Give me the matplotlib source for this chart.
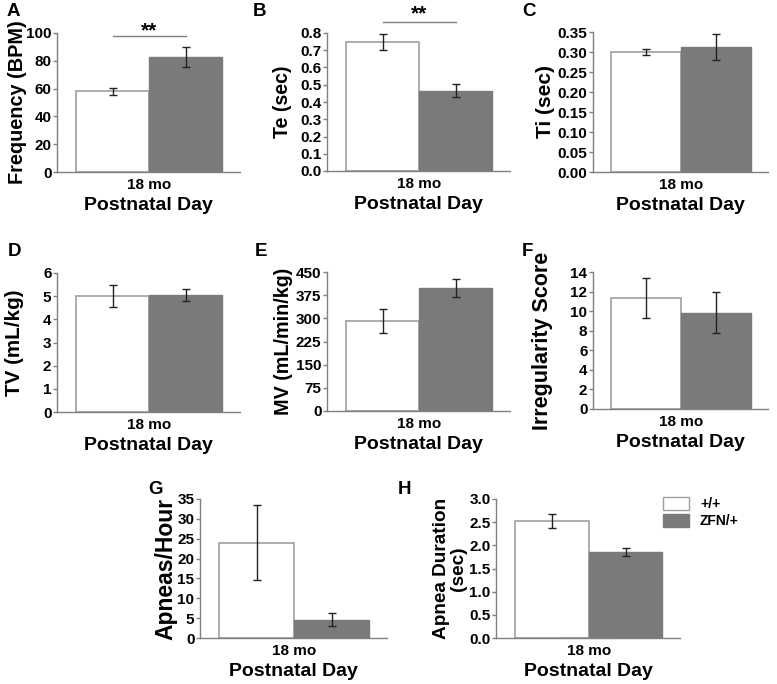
import numpy as np
import matplotlib
matplotlib.use("Agg")
from matplotlib import pyplot as plt

plt.rcParams['font.family'] = ['Liberation Sans', 'DejaVu Sans']
plt.rcParams['font.weight'] = 'bold'

# data (mean, sem) for +/+ and ZFN/+ at 18 mo
groups = ['+/+', 'ZFN/+']
panels = ['A', 'B', 'C', 'D', 'E', 'F', 'G', 'H']
ylabels = ['Frequency (BPM)', 'Te (sec)', 'Ti (sec)', 'TV (mL/kg)',
           'MV (mL/min/kg)', 'Irregularity Score', 'Apneas/Hour', 'Apnea Duration\n(sec)']
wt_mean = [58.0, 0.747, 0.301, 5.0, 291, 11.35, 24.0, 2.525]
wt_sem = [2.4, 0.048, 0.0075, 0.48, 40, 2.0, 9.4, 0.16]
zfn_mean = [82.4, 0.466, 0.312, 5.04, 398, 9.86, 4.6, 1.856]
zfn_sem = [7.2, 0.036, 0.033, 0.25, 28.5, 2.08, 1.7, 0.083]
yticks = [np.arange(0, 101, 20), np.arange(0, 0.81, 0.1), np.arange(0, 0.351, 0.05),
          np.arange(0, 7, 1), np.arange(0, 451, 75), np.arange(0, 15, 2),
          np.arange(0, 36, 5), np.arange(0, 3.01, 0.5)]
yfmt = ['{:.0f}', '{:.1f}', '{:.2f}', '{:.0f}', '{:.0f}', '{:.0f}', '{:.0f}', '{:.1f}']
sig = {0: (97.5, 101.5), 1: (0.861, 0.91)}

W, H = 777, 684
# axes boxes in pixels: left, right, top, bottom
boxes = [(57, 240, 33, 172), (327, 510, 33, 171), (593, 768, 32, 172),
         (57, 240, 273, 412), (327, 510, 272, 411), (593, 768, 272, 409),
         (200, 387, 499, 638), (496, 680, 499, 638)]
ylab_x = [-0.164, -0.19, -0.217, -0.18, -0.186, -0.229, -0.123, -0.158]
ylab_size = [14.3, 14.1, 15, 14.9, 14.2, 15.5, 16.5, 13.7]
letter_xy = [(7, 12), (253, 12), (522, 12), (8, 252), (255, 252), (522, 252), (148, 489), (398, 489)]

edge = '#a0a0a0'
grey = '#7a7a7a'

fig = plt.figure(figsize=(W / 100, H / 100), dpi=100)
for i in range(8):
    l, r, t, b = boxes[i]
    ax = fig.add_axes([l / W, 1 - b / H, (r - l) / W, (b - t) / H])
    ax.bar(-0.5, wt_mean[i], width=1, color='white', edgecolor=edge, linewidth=1.2)
    ax.bar(0.5, zfn_mean[i], width=1, color=grey, edgecolor=grey, linewidth=1)
    ax.errorbar([-0.5, 0.5], [wt_mean[i], zfn_mean[i]], yerr=[wt_sem[i], zfn_sem[i]],
                fmt='none', ecolor='#222222', elinewidth=1, capsize=3, capthick=1)
    ax.set_xlim(-1.26, 1.24)
    ax.set_ylim(0, yticks[i][-1])
    ax.set_yticks(yticks[i])
    ax.set_yticklabels([yfmt[i].format(v) for v in yticks[i]])
    ax.set_xticks([0])
    ax.set_xticklabels(['18 mo'])
    ax.tick_params(axis='x', length=0, pad=4, labelsize=11)
    ax.tick_params(axis='y', length=3, width=1, color='#808080', pad=1, labelsize=11)
    for s in ['top', 'right']:
        ax.spines[s].set_visible(False)
    for s in ['left', 'bottom']:
        ax.spines[s].set_color('#808080')
        ax.spines[s].set_linewidth(1)
    ax.set_ylabel(ylabels[i], fontsize=ylab_size[i], fontweight='bold', linespacing=1.0)
    ax.yaxis.set_label_coords(ylab_x[i], 0.5)
    ax.set_xlabel('Postnatal Day', fontsize=14, fontweight='bold', labelpad=4)
    if i in sig:
        ly, sy = sig[i]
        ax.plot([-0.5, 0.5], [ly, ly], color='#808080', lw=1, clip_on=False)
        ax.text(0, sy, '**', ha='center', va='center', fontsize=15, clip_on=False)
    lx, lyy = letter_xy[i]
    fig.text(lx / W, 1 - lyy / H, panels[i], fontsize=13.5, fontweight='bold', va='center')
    if i == 7:
        hw = ax.bar([0], [0], color='white', edgecolor=edge, label=groups[0])
        hz = ax.bar([0], [0], color=grey, edgecolor=grey, label=groups[1])
        fig.legend(handles=[hw, hz], labels=groups, loc='upper left',
                   bbox_to_anchor=(650 / W, 1 - 484 / H), frameon=False,
                   fontsize=10, handlelength=1.9, handleheight=1.1, handletextpad=0.8,
                   labelspacing=0.2)

fig.savefig('out.png', dpi=100)
